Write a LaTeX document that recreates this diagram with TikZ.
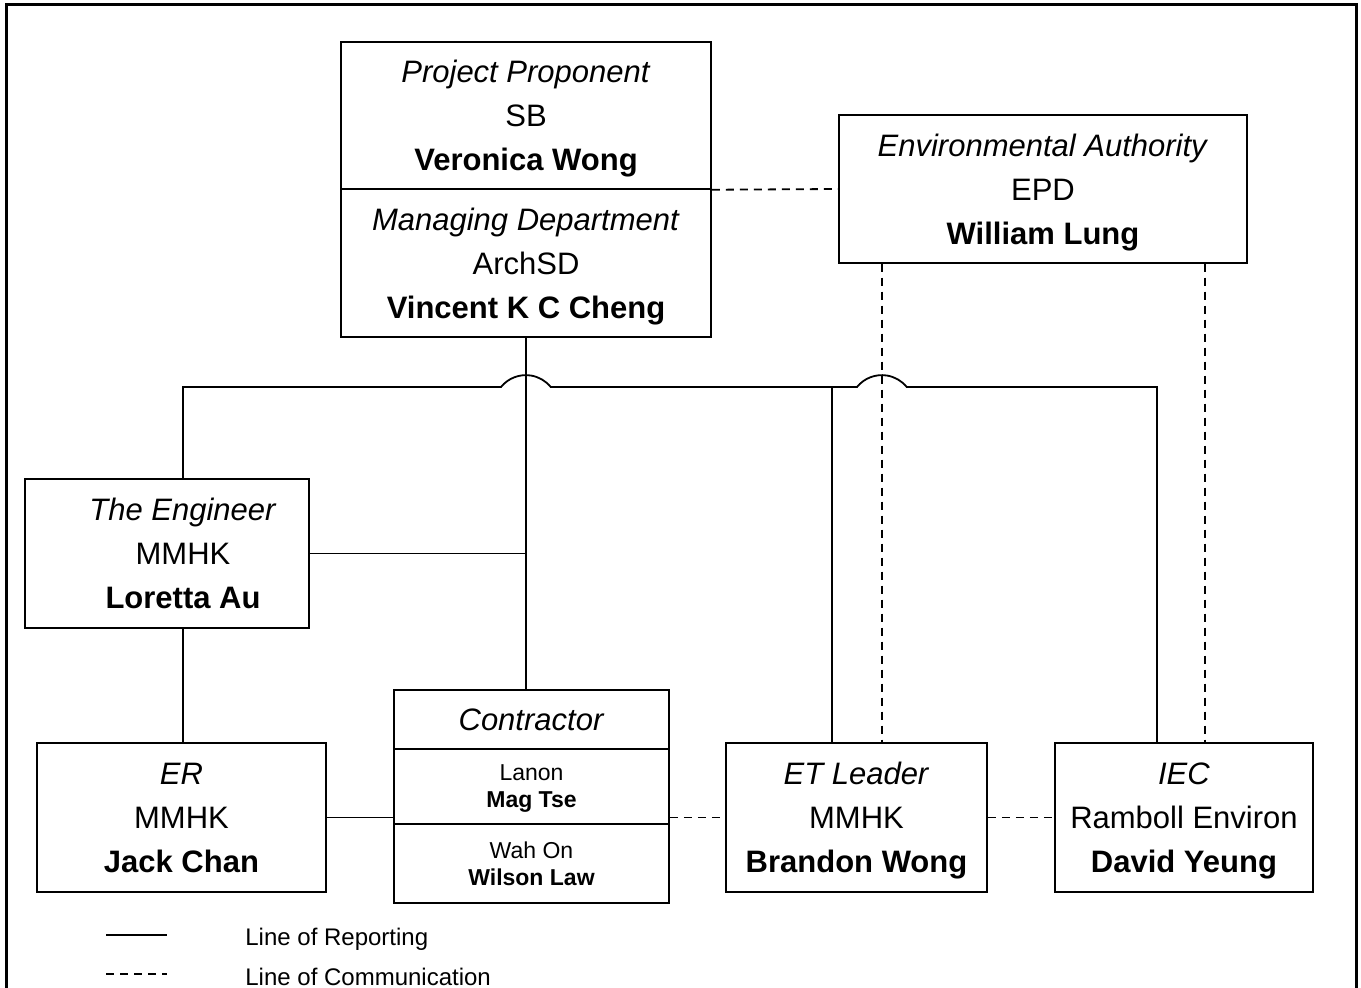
\documentclass[tikz,border=0pt]{standalone}
\usepackage{fontspec}
\setmainfont{Liberation Sans}
\usetikzlibrary{calc}
\tikzset{
  box/.style={draw, line width=0.75pt, inner sep=0pt, align=center, text depth=0pt, font=\fontsize{15.5}{22}\selectfont},
  smallbox/.style={box, text depth=-4pt, font=\fontsize{11.5}{13.5}\selectfont},
  report/.style={line width=0.9pt},
  comm/.style={line width=0.9pt, dash pattern=on 4pt off 3pt}
}

\begin{document}
\begin{tikzpicture}[x=0.5pt, y=-0.5pt]
		%%%%% START %%%%%
		\useasboundingbox (0,0) rectangle (1361,988);
		\draw[line width=1.2pt] (6.5,4.5) rectangle (1356.5,1010);
		
		\node[box, minimum width=185pt, minimum height=73.5pt] (pp) at (526,115.5) {\textit{Project Proponent}\\SB\\\textbf{Veronica Wong}};
		\node[box, minimum width=185pt, minimum height=74pt] (md) at (526,263) {\textit{Managing Department}\\ArchSD\\\textbf{Vincent K C Cheng}};
		\node[box, minimum width=204pt, minimum height=74pt] (epd) at (1043,189) {\textit{Environmental Authority}\\EPD\\\textbf{William Lung}};
		
		% text of the engineer box sits right of centre
		\node[box, minimum width=142pt, minimum height=74.5pt] (eng) at (167,553.5) {\hspace*{16pt}\textit{The Engineer}\\\hspace*{16pt}MMHK\\\hspace*{16pt}\textbf{Loretta Au}};
		\node[box, minimum width=144.5pt, minimum height=74.5pt] (er) at (181.5,817.5) {\textit{ER}\\MMHK\\\textbf{Jack Chan}};
		
		\node[box, minimum width=137.5pt, minimum height=29.5pt] (ctr) at (531.5,719.5) {\textit{Contractor}};
		\node[smallbox, text depth=-6pt, minimum width=137.5pt, minimum height=37.5pt] (lanon) at (531.5,786.5) {Lanon\\\textbf{Mag Tse}};
		\node[smallbox, minimum width=137.5pt, minimum height=39.5pt] (wahon) at (531.5,863.5) {Wah On\\\textbf{Wilson Law}};
		
		\node[box, minimum width=130.5pt, minimum height=74.5pt] (etl) at (856.5,817.5) {\textit{ET Leader}\\MMHK\\\textbf{Brandon Wong}};
		\node[box, minimum width=129pt, minimum height=74.5pt] (iec) at (1184,817.5) {\textit{IEC}\\Ramboll Environ\\\textbf{David Yeung}};
		
		% reporting lines
		\draw[report] (md.south) -- (md.south |- ctr.north);
		\draw[report] (eng.east) -- (eng.east -| md.south);
		\draw[report] (183,0 |- eng.north) |- (501,387) arc (219:321:32) -- (857,387) arc (219:321:32) -| (1157,0 |- iec.north);
		\draw[report] (832,387) -- (832,0 |- etl.north);
		\draw[report] (183,0 |- eng.south) -- (183,0 |- er.north);
		\draw[report] (er.east) -- (er.east -| lanon.west);
		
		% communication lines
		\draw[comm] (pp.south east) -- (epd.west);
		\draw[comm] (882,0 |- epd.south) -- (882,0 |- etl.north);
		\draw[comm] (1205,0 |- epd.south) -- (1205,0 |- iec.north);
		\draw[comm] (er.east -| lanon.east) -- (etl.west);
		\draw[comm] (etl.east) -- (iec.west);
		
		% legend
		\draw[report] (106,935) -- (167,935);
		\draw[comm] (106,974) -- (167,974);
		\node[anchor=west, inner sep=0pt, font=\fontsize{12}{14}\selectfont] (legrep) at (245,939) {Line of Reporting};
		\node[anchor=west, inner sep=0pt, font=\fontsize{12}{14}\selectfont] (legcom) at (245,977) {Line of Communication};
		%%%%% END %%%%%
\end{tikzpicture}
\end{document}
